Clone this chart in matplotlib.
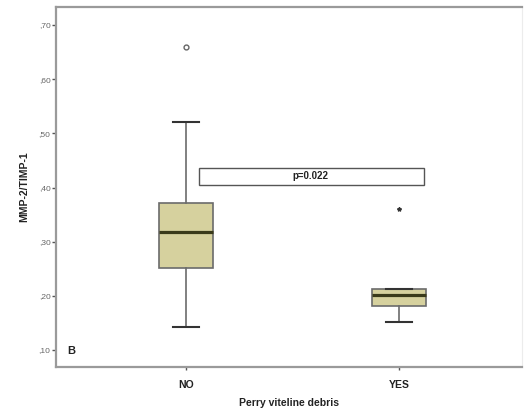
import numpy as np
from matplotlib import pyplot as plt
from matplotlib.ticker import FuncFormatter
from matplotlib.patches import Rectangle

# values
groups = ['NO', 'YES']
whisker_low = [0.143, 0.151]
q1 = [0.251, 0.182]
median = [0.317, 0.202]
q3 = [0.372, 0.212]
whisker_high = [0.521, 0.212]
outliers = [[0.660], [0.361]]
out_markers = ['o', '*']
yticks = [0.10, 0.20, 0.30, 0.40, 0.50, 0.60, 0.70]
p_text = 'p=0.022'

plt.rcParams['font.family'] = ['Liberation Sans', 'DejaVu Sans']

fig = plt.figure(figsize=(5.24, 4.11), dpi=100)
ax = fig.add_axes([0.107, 0.107, 0.889, 0.877])

stats = []
for i in range(len(groups)):
    stats.append({'label': groups[i], 'whislo': whisker_low[i], 'q1': q1[i],
                  'med': median[i], 'q3': q3[i], 'whishi': whisker_high[i],
                  'fliers': []})

ax.bxp(stats, positions=[1, 2], widths=0.25, patch_artist=True,
       showfliers=False,
       boxprops=dict(facecolor='#d6d19e', edgecolor='#6b6b6b', linewidth=1.2),
       medianprops=dict(color='#3a3a1a', linewidth=2.3),
       whiskerprops=dict(color='#6b6b6b', linewidth=1.2),
       capprops=dict(color='#333333', linewidth=1.5),
       capwidths=0.125)

# outliers
for i in range(len(groups)):
    if out_markers[i] == 'o':
        ax.plot([i + 1] * len(outliers[i]), outliers[i], 'o', ms=3.5,
                mfc='white', mec='#666666', mew=1)
    else:
        ax.plot([i + 1] * len(outliers[i]), outliers[i], '*', ms=3,
                color='#333333')

ax.set_xlim(0.39, 2.577)
ax.set_ylim(0.0686, 0.734)

# p-value box
ax.add_patch(Rectangle((1.06, 0.4055), 1.057, 0.0314, facecolor='white',
                       edgecolor='#555555', linewidth=1.0, zorder=3))
ax.text(1.585, 0.421, p_text, ha='center', va='center', fontsize=7,
        fontweight='bold', color='#222222', zorder=4)

ax.text(0.46, 0.099, 'B', ha='center', va='center', fontsize=8,
        fontweight='bold', color='#222222')

ax.set_yticks(yticks)
ax.yaxis.set_major_formatter(FuncFormatter(lambda v, p: ('%.2f' % v)[1:].replace('.', ',')))
ax.set_xticks([1, 2])
ax.set_xticklabels(groups, fontsize=7.5, fontweight='bold', color='#222222')
ax.tick_params(axis='y', labelsize=6, labelcolor='#666666', length=3,
               width=1, color='#555555', pad=1)
ax.tick_params(axis='x', length=2, width=1, color='#555555', pad=7)

for s in ax.spines.values():
    s.set_color('#9a9a9a')
    s.set_linewidth(1.6)
ax.spines['right'].set_color('#ececec')
ax.spines['right'].set_linewidth(0.8)

ax.set_ylabel('MMP-2/TIMP-1', fontsize=7.5, fontweight='bold', color='#222222',
              labelpad=7)
ax.set_xlabel('Perry viteline debris', fontsize=7.5, fontweight='bold',
              color='#222222', labelpad=6)

fig.savefig('out.png', dpi=100)
